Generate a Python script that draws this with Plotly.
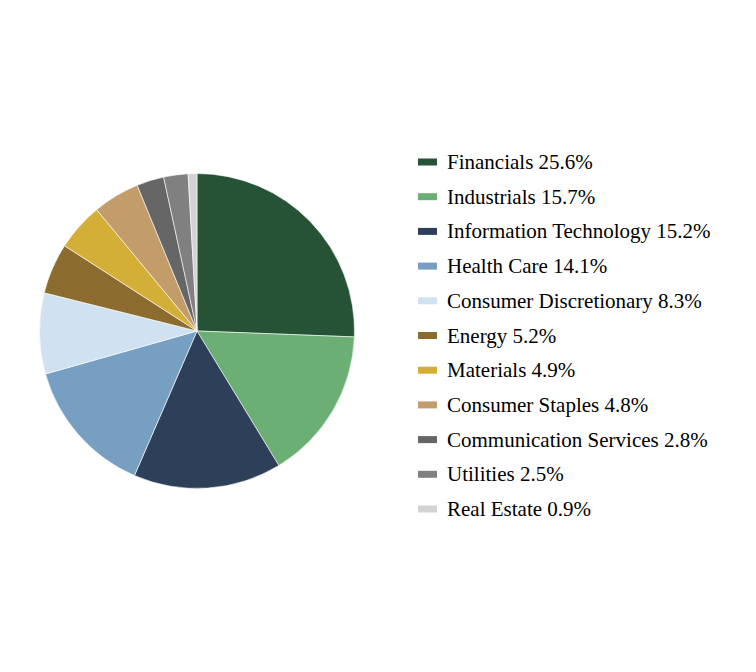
import plotly.graph_objects as go

sectors = ["Financials", "Industrials", "Information Technology", "Health Care",
           "Consumer Discretionary", "Energy", "Materials", "Consumer Staples",
           "Communication Services", "Utilities", "Real Estate"]
weights = [25.6, 15.7, 15.2, 14.1, 8.3, 5.2, 4.9, 4.8, 2.8, 2.5, 0.9]
colors = ["#265336", "#6BAF74", "#2E4059", "#779FC2", "#D0E1F1", "#8C6B2E",
          "#D4AF37", "#C29D6A", "#666666", "#808080", "#D3D3D3"]

W, H = 756, 672
OFF = 8  # page offset
cx, cy, r = 197 - OFF, 331 - OFF, 157.5

fig = go.Figure(go.Pie(
    labels=sectors, values=weights, sort=False, direction="clockwise", rotation=0,
    marker=dict(colors=colors, line=dict(color="white", width=0.6)),
    textinfo="none", showlegend=False,
    domain=dict(x=[(cx - r) / W, (cx + r) / W], y=[1 - (cy + r) / H, 1 - (cy - r) / H]),
))

# custom legend
y0, dy = 162 - OFF, 34.7
shapes, annotations = [], []
for i, (name, val, col) in enumerate(zip(sectors, weights, colors)):
    yc = y0 + i * dy
    shapes.append(dict(type="rect", xref="paper", yref="paper",
                       x0=(418 - OFF) / W, x1=(437 - OFF) / W,
                       y0=1 - (yc + 3.5) / H, y1=1 - (yc - 3.5) / H,
                       fillcolor=col, line=dict(width=0)))
    annotations.append(dict(xref="paper", yref="paper", x=(445 - OFF) / W, y=1 - yc / H,
                            xanchor="left", yanchor="middle", showarrow=False,
                            text=f"{name} {val:.1f}%",
                            font=dict(family="Liberation Serif, Times New Roman, serif",
                                      size=21, color="#000000")))

fig.update_layout(width=W, height=H, margin=dict(l=0, r=0, t=0, b=0),
                  paper_bgcolor="white", plot_bgcolor="white",
                  shapes=shapes, annotations=annotations)
fig.write_html("out.html")
